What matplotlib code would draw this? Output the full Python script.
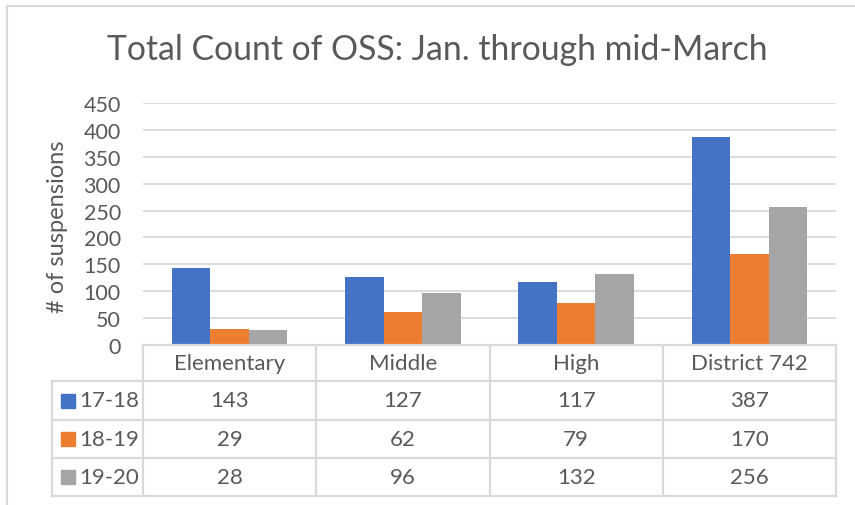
import numpy as np
import matplotlib.pyplot as plt
from matplotlib.patches import Rectangle

plt.rcParams['font.family'] = ['Lato', 'DejaVu Sans']

# data
categories = ["Elementary", "Middle", "High", "District 742"]
years = ["17-18", "18-19", "19-20"]
oss_1718 = [143, 127, 117, 387]
oss_1819 = [29, 62, 79, 170]
oss_1920 = [28, 96, 132, 256]
series = [oss_1718, oss_1819, oss_1920]
colors = ["#4472c4", "#ed7d31", "#a5a5a5"]

txt = "#595959"
grid = "#d9d9d9"
W, H = 855, 506

fig = plt.figure(figsize=(W / 100, H / 100), dpi=100)

# plot area in pixels
left, right, y0, ytop = 143, 836, 346, 104
ax = fig.add_axes([left / W, (H - y0) / H, (right - left) / W, (y0 - ytop) / H])

x = np.arange(len(categories))
bw = 0.222
for i, (vals, c) in enumerate(zip(series, colors)):
    ax.bar(x + (i - 1) * bw, vals, width=bw, color=c, zorder=3)

ax.set_xlim(-0.5, len(categories) - 0.5)
ax.set_ylim(0, 450)
ax.set_yticks(range(0, 451, 50))
ax.set_xticks([])
ax.grid(axis='y', color=grid, linewidth=1.3, zorder=0)
for s in ax.spines.values():
    s.set_visible(False)
ax.tick_params(axis='y', length=0, labelsize=15.5, colors=txt, pad=16)

fig.text(57 / W, 1 - 227 / H, "# of suspensions", rotation=90, ha='center',
         va='center', fontsize=17, color=txt)

fig.text(437 / W, 1 - 50 / H, "Total Count of OSS: Jan. through mid-March",
         ha='center', va='center', fontsize=24.3, color=txt)

# data table drawn on an overlay in pixel units
tb = fig.add_axes([0, 0, 1, 1])
tb.set_xlim(0, W)
tb.set_ylim(H, 0)
tb.axis('off')
tb.patch.set_alpha(0)

colw = (right - left) / len(categories)
xs = [left + k * colw for k in range(len(categories) + 1)]
rows = [346, 382, 421, 459, 497]
lab_left = 52
lw = 1.6
fs = 16

tb.plot([left, right], [rows[0], rows[0]], color=grid, lw=lw)
for yy in rows[1:]:
    tb.plot([lab_left, right], [yy, yy], color=grid, lw=lw)
for xx in xs:
    tb.plot([xx, xx], [rows[0], rows[-1]], color=grid, lw=lw)
tb.plot([lab_left, lab_left], [rows[1], rows[-1]], color=grid, lw=lw)

for k, cat in enumerate(categories):
    cx = (xs[k] + xs[k + 1]) / 2
    tb.text(cx, (rows[0] + rows[1]) / 2, cat, ha='center', va='center',
            fontsize=fs, color=txt)
    for r, vals in enumerate(series):
        tb.text(cx, (rows[r + 1] + rows[r + 2]) / 2, str(vals[k]), ha='center',
                va='center', fontsize=fs, color=txt)

for r, (yr, c) in enumerate(zip(years, colors)):
    cy = (rows[r + 1] + rows[r + 2]) / 2
    tb.add_patch(Rectangle((61, cy - 7), 14, 14, color=c))
    tb.text(79, cy, yr, ha='left', va='center', fontsize=fs, color=txt)

# outer chart border
tb.plot([7, 7], [7, H], color=grid, lw=1.5)
tb.plot([7, W], [7, 7], color=grid, lw=1.5)

fig.savefig("out.png", dpi=100)
